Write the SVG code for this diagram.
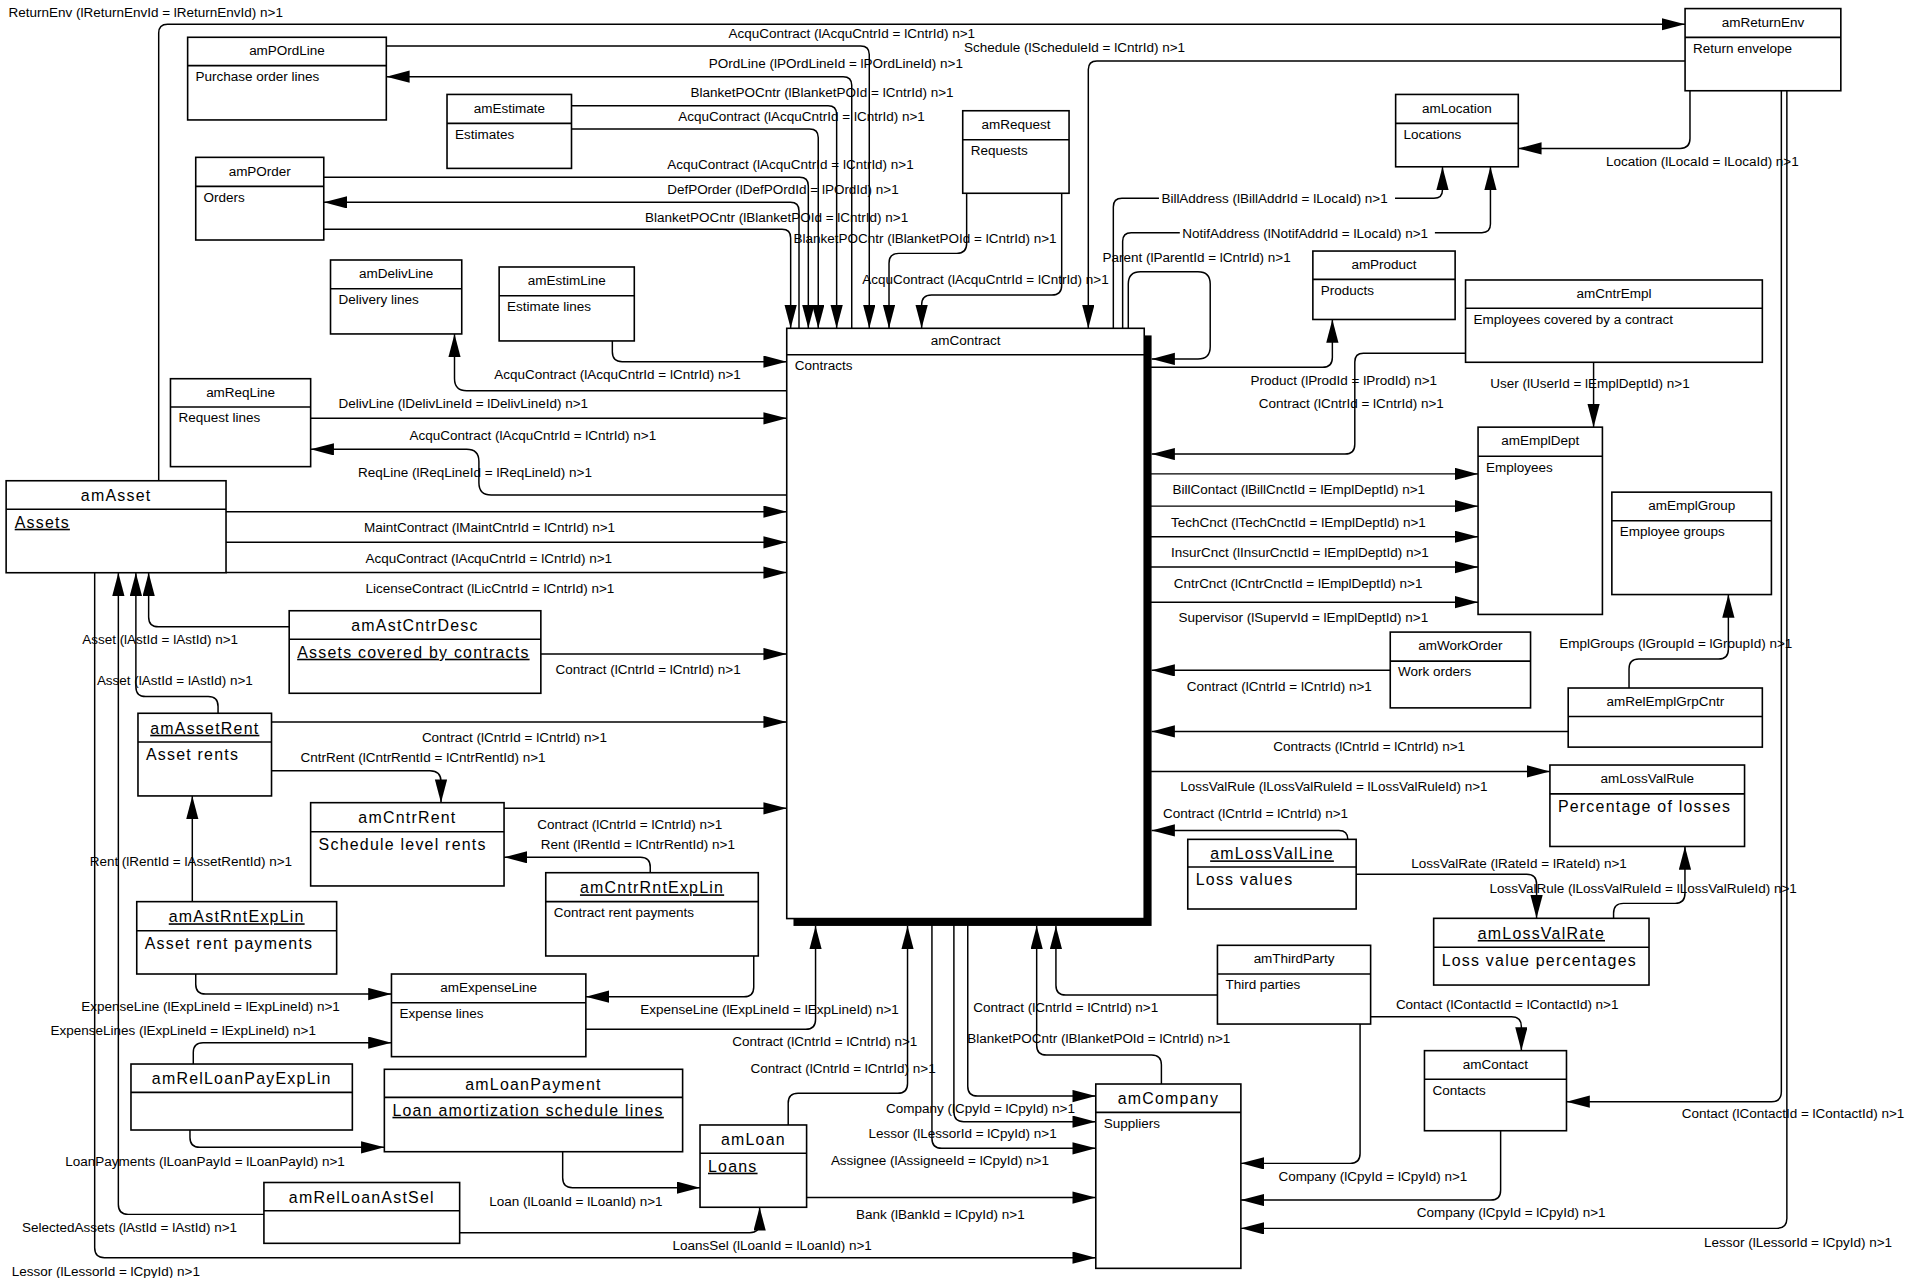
<svg xmlns="http://www.w3.org/2000/svg" width="1923" height="1278" viewBox="0 0 1923 1278">
<style>
.bx{fill:#fff;stroke:#000;stroke-width:1.3}
.hd{stroke:#000;stroke-width:1.3}
.ln{fill:none;stroke:#000;stroke-width:1.2}
.ar{marker-end:url(#a)}
text{font-family:"Liberation Sans",Arial,sans-serif;font-size:11px;fill:#000}
.L{font-size:13px;letter-spacing:1px}
.u{text-decoration:underline}
.c{text-anchor:middle}
</style>
<defs>
<marker id="a" markerUnits="userSpaceOnUse" markerWidth="20" markerHeight="11" refX="19" refY="5" orient="auto"><path d="M0,0 L19,5 L0,10 z" fill="#000"/></marker>
</defs>
<rect width="1923" height="1278" fill="#fff"/>
<g transform="scale(1.2264)">
<g id="connectors">
<g class="ln ar">
<path d="M129.4,392 V27 Q129.4,19.8 136.6,19.8 H1374"/>
<path d="M315,37.5 H701.8 Q708.8,37.5 708.8,44.5 V267.7"/>
<path d="M694.5,267.7 V69.5 Q694.5,62.5 687.5,62.5 H315"/>
<path d="M466,86.2 H675.2 Q682.2,86.2 682.2,93.2 V267.7"/>
<path d="M466,105.2 H660.2 Q667.2,105.2 667.2,112.2 V267.7"/>
<path d="M264,144.6 H652.1 Q659.1,144.6 659.1,151.6 V267.7"/>
<path d="M651.5,267.7 V172 Q651.5,165 644.5,165 H264"/>
<path d="M264,187 H637.7 Q644.7,187 644.7,194 V267.7"/>
<path d="M788.2,157.6 V198.6 Q788.2,206.6 780.2,206.6 H732.9 Q724.9,206.6 724.9,214.6 V267.7"/>
<path d="M865.7,157.6 V232.5 Q865.7,240.5 857.7,240.5 H759.5 Q751.5,240.5 751.5,248.5 V267.7"/>
<path d="M1374,49.7 H894.4 Q887.4,49.7 887.4,56.7 V267.7"/>
<path d="M1137.5,161.7 H1169.2 Q1176.2,161.7 1176.2,154.7 V136"/>
<path d="M1170,189.7 H1208.3 Q1215.3,189.7 1215.3,182.7 V136"/>
<path d="M920,267.7 V231.5 Q920,221.5 930,221.5 H976.8 Q986.8,221.5 986.8,231.5 V282.7 Q986.8,292.7 976.8,292.7 H939"/>
<path d="M933,299.5 H1078.4 Q1086.4,299.5 1086.4,291.5 V260.5"/>
<path d="M1195,288.1 H1111.7 Q1104.7,288.1 1104.7,295.1 V362.2 Q1104.7,370.2 1096.7,370.2 H939"/>
<path d="M1299.4,295.4 V348.3"/>
<path d="M933,386.4 H1205.2"/>
<path d="M933,412.7 H1205.2"/>
<path d="M933,437.7 H1205.2"/>
<path d="M933,462.4 H1205.2"/>
<path d="M933,491 H1205.2"/>
<path d="M1328.3,561 V545.3 Q1328.3,537.3 1336.3,537.3 H1401.3 Q1409.3,537.3 1409.3,529.3 V484.8"/>
<path d="M1133.6,546.6 H939"/>
<path d="M1278.7,596.4 H939"/>
<path d="M933,629 H1263.8"/>
<path d="M1099,684.4 Q1099,677.1 1091.7,677.1 H939"/>
<path d="M1105.8,712.9 H1244.9 Q1252.9,712.9 1252.9,720.9 V748.8"/>
<path d="M1315.7,748.8 V744.6 Q1315.7,736.6 1323.7,736.6 H1365.9 Q1373.9,736.6 1373.9,728.6 V690.2"/>
<path d="M992.7,811.3 H869 Q861,811.3 861,803.3 V755"/>
<path d="M947,883.9 V868.2 Q947,860.2 939,860.2 H853.3 Q845.3,860.2 845.3,852.2 V755"/>
<path d="M789.1,749 V885.7 Q789.1,893.7 797.1,893.7 H893.5"/>
<path d="M777.8,749 V906.6 Q777.8,914.6 785.8,914.6 H893.5"/>
<path d="M759.9,749 V928.3 Q759.9,936.3 767.9,936.3 H893.5"/>
<path d="M642.7,917.3 V899.5 Q642.7,891.5 650.7,891.5 H732 Q740,891.5 740,883.5 V755"/>
<path d="M477.7,839.3 H657 Q665,839.3 665,831.3 V755"/>
<path d="M614.6,779.5 V804.7 Q614.6,812.7 606.6,812.7 H477.7"/>
<path d="M530.2,711.6 V707 Q530.2,699 522.2,699 H411"/>
<path d="M411,659.1 H641.5"/>
<path d="M221.4,628.4 H350.6 Q359.6,628.4 359.6,637.4 V654.5"/>
<path d="M221.4,588.7 H641.5"/>
<path d="M177.8,581.6 V576 Q177.8,568 169.8,568 H118.8 Q110.8,568 110.8,560 V467"/>
<path d="M235.8,511 H129.2 Q121.2,511 121.2,503 V467"/>
<path d="M441,533.3 H641.5"/>
<path d="M184.3,417.2 H641.5"/>
<path d="M184.3,442.2 H641.5"/>
<path d="M184.3,466.9 H641.5"/>
<path d="M215.2,990.2 H104.5 Q96.5,990.2 96.5,982.2 V467"/>
<path d="M77.2,467 V1017.5 Q77.2,1025.5 85.2,1025.5 H893.5"/>
<path d="M156.8,735.2 V649"/>
<path d="M159.6,794.2 V802.5 Q159.6,810.5 167.6,810.5 H319.2"/>
<path d="M157.6,867.6 V858.2 Q157.6,850.2 165.6,850.2 H319.2"/>
<path d="M154.9,921.4 V927.5 Q154.9,935.5 162.9,935.5 H313.4"/>
<path d="M458.8,939.1 V960.4 Q458.8,968.4 466.8,968.4 H570.8"/>
<path d="M374.8,1005.1 H611.4 Q619.4,1005.1 619.4,997.1 V984.4"/>
<path d="M657.7,976.5 H893.5"/>
<path d="M1109,835 V940.6 Q1109,948.6 1101,948.6 H1011.8"/>
<path d="M1223.6,922 V970.5 Q1223.6,978.5 1215.6,978.5 H1011.8"/>
<path d="M1457,74 V993.6 Q1457,1001.6 1449,1001.6 H1011.8"/>
<path d="M1452.5,74 V890.3 Q1452.5,898.3 1444.5,898.3 H1277.3"/>
<path d="M1117.6,829 H1232.5 Q1240.5,829 1240.5,837 V856.7"/>
<path d="M1378,74 V113 Q1378,121 1370,121 H1238"/>
<path d="M499.3,278 V286.9 Q499.3,294.9 507.3,294.9 H641.5"/>
<path d="M641.5,318.6 H380.6 Q370.6,318.6 370.6,308.6 V272.3"/>
<path d="M253.3,341.1 H641.5"/>
<path d="M641.5,403.6 H400.5 Q390.5,403.6 390.5,393.6 V376.4 Q390.5,366.4 380.5,366.4 H253.3"/>
</g>
<g class="ln">
<path d="M907.8,267.7 V168.7 Q907.8,161.7 914.8,161.7 H945"/>
<path d="M915.4,267.7 V196.7 Q915.4,189.7 922.4,189.7 H962"/>
</g>
<g id="connector-labels">
<text x="7" y="14">ReturnEnv (lReturnEnvId = lReturnEnvId) n&gt;1</text>
<text x="594" y="31">AcquContract (lAcquCntrId = lCntrId) n&gt;1</text>
<text x="786" y="42.6">Schedule (lScheduleId = lCntrId) n&gt;1</text>
<text x="578" y="55.6">POrdLine (lPOrdLineId = lPOrdLineId) n&gt;1</text>
<text x="563" y="79.3">BlanketPOCntr (lBlanketPOId = lCntrId) n&gt;1</text>
<text x="553" y="98.3">AcquContract (lAcquCntrId = lCntrId) n&gt;1</text>
<text x="544" y="137.7">AcquContract (lAcquCntrId = lCntrId) n&gt;1</text>
<text x="544" y="158.1">DefPOrder (lDefPOrdId = lPOrdId) n&gt;1</text>
<text x="526" y="180.7">BlanketPOCntr (lBlanketPOId = lCntrId) n&gt;1</text>
<text x="647" y="198.5">BlanketPOCntr (lBlanketPOId = lCntrId) n&gt;1</text>
<text x="703" y="231.6">AcquContract (lAcquCntrId = lCntrId) n&gt;1</text>
<text x="1309.6" y="135">Location (lLocaId = lLocaId) n&gt;1</text>
<text x="947" y="165.7">BillAddress (lBillAddrId = lLocaId) n&gt;1</text>
<text x="964" y="193.7">NotifAddress (lNotifAddrId = lLocaId) n&gt;1</text>
<text x="899" y="214">Parent (lParentId = lCntrId) n&gt;1</text>
<text x="1019.6" y="313.8">Product (lProdId = lProdId) n&gt;1</text>
<text x="1026.4" y="332.3">Contract (lCntrId = lCntrId) n&gt;1</text>
<text x="1215.2" y="316.6">User (lUserId = lEmplDeptId) n&gt;1</text>
<text x="956" y="403">BillContact (lBillCnctId = lEmplDeptId) n&gt;1</text>
<text x="954.8" y="430">TechCnct (lTechCnctId = lEmplDeptId) n&gt;1</text>
<text x="954.8" y="454.5">InsurCnct (lInsurCnctId = lEmplDeptId) n&gt;1</text>
<text x="957" y="479.5">CntrCnct (lCntrCnctId = lEmplDeptId) n&gt;1</text>
<text x="961" y="507.2">Supervisor (lSupervId = lEmplDeptId) n&gt;1</text>
<text x="1271.4" y="528.2">EmplGroups (lGroupId = lGroupId) n&gt;1</text>
<text x="967.6" y="563.1">Contract (lCntrId = lCntrId) n&gt;1</text>
<text x="1038.2" y="612.6">Contracts (lCntrId = lCntrId) n&gt;1</text>
<text x="962.4" y="645.2">LossValRule (lLossValRuleId = lLossValRuleId) n&gt;1</text>
<text x="948.3" y="667.1">Contract (lCntrId = lCntrId) n&gt;1</text>
<text x="1150.7" y="707.4">LossValRate (lRateId = lRateId) n&gt;1</text>
<text x="1214.5" y="727.8">LossValRule (lLossValRuleId = lLossValRuleId) n&gt;1</text>
<text x="793.5" y="825.4">Contract (lCntrId = lCntrId) n&gt;1</text>
<text x="1138.2" y="823">Contact (lContactId = lContactId) n&gt;1</text>
<text x="788.7" y="850.6">BlanketPOCntr (lBlanketPOId = lCntrId) n&gt;1</text>
<text x="722.5" y="907.7">Company (lCpyId = lCpyId) n&gt;1</text>
<text x="708.2" y="928.1">Lessor (lLessorId = lCpyId) n&gt;1</text>
<text x="677.5" y="949.9">Assignee (lAssigneeId = lCpyId) n&gt;1</text>
<text x="612" y="875.1">Contract (lCntrId = lCntrId) n&gt;1</text>
<text x="597" y="852.5">Contract (lCntrId = lCntrId) n&gt;1</text>
<text x="522" y="827">ExpenseLine (lExpLineId = lExpLineId) n&gt;1</text>
<text x="441" y="692.2">Rent (lRentId = lCntrRentId) n&gt;1</text>
<text x="438" y="675.9">Contract (lCntrId = lCntrId) n&gt;1</text>
<text x="245" y="621.5">CntrRent (lCntrRentId = lCntrRentId) n&gt;1</text>
<text x="344" y="605.2">Contract (lCntrId = lCntrId) n&gt;1</text>
<text x="79" y="558.5">Asset (lAstId = lAstId) n&gt;1</text>
<text x="67" y="525.3">Asset (lAstId = lAstId) n&gt;1</text>
<text x="453" y="549.8">Contract (lCntrId = lCntrId) n&gt;1</text>
<text x="296.8" y="434">MaintContract (lMaintCntrId = lCntrId) n&gt;1</text>
<text x="298" y="458.7">AcquContract (lAcquCntrId = lCntrId) n&gt;1</text>
<text x="298" y="483.7">LicenseContract (lLicCntrId = lCntrId) n&gt;1</text>
<text x="17.9" y="1004.2">SelectedAssets (lAstId = lAstId) n&gt;1</text>
<text x="9.6" y="1040.1">Lessor (lLessorId = lCpyId) n&gt;1</text>
<text x="73.1" y="705.8">Rent (lRentId = lAssetRentId) n&gt;1</text>
<text x="66.2" y="824">ExpenseLine (lExpLineId = lExpLineId) n&gt;1</text>
<text x="41.2" y="843.9">ExpenseLines (lExpLineId = lExpLineId) n&gt;1</text>
<text x="53.2" y="950.4">LoanPayments (lLoanPayId = lLoanPayId) n&gt;1</text>
<text x="399" y="983">Loan (lLoanId = lLoanId) n&gt;1</text>
<text x="548.3" y="1019.2">LoansSel (lLoanId = lLoanId) n&gt;1</text>
<text x="698" y="993.9">Bank (lBankId = lCpyId) n&gt;1</text>
<text x="1042.4" y="962.9">Company (lCpyId = lCpyId) n&gt;1</text>
<text x="1155.2" y="992">Company (lCpyId = lCpyId) n&gt;1</text>
<text x="1389.4" y="1016.5">Lessor (lLessorId = lCpyId) n&gt;1</text>
<text x="1371.3" y="911.8">Contact (lContactId = lContactId) n&gt;1</text>
<text x="403" y="309">AcquContract (lAcquCntrId = lCntrId) n&gt;1</text>
<text x="276" y="332.9">DelivLine (lDelivLineId = lDelivLineId) n&gt;1</text>
<text x="334" y="358.7">AcquContract (lAcquCntrId = lCntrId) n&gt;1</text>
<text x="292" y="389.1">ReqLine (lReqLineId = lReqLineId) n&gt;1</text>
</g>
</g>
<g id="nodes">
<g id="amReturnEnv"><rect class="bx" x="1374" y="7" width="127" height="67"/><line class="hd" x1="1374" y1="30.5" x2="1501" y2="30.5"/><text class="c" x="1437.5" y="21.8">amReturnEnv</text><text x="1380.5" y="43">Return envelope</text></g>
<g id="amPOrdLine"><rect class="bx" x="153" y="30.4" width="162" height="67.4"/><line class="hd" x1="153" y1="53.5" x2="315" y2="53.5"/><text class="c" x="234" y="45">amPOrdLine</text><text x="159.5" y="66">Purchase order lines</text></g>
<g id="amEstimate"><rect class="bx" x="364.5" y="77" width="101.5" height="60.3"/><line class="hd" x1="364.5" y1="100.6" x2="466" y2="100.6"/><text class="c" x="415.3" y="91.8">amEstimate</text><text x="371" y="113.1">Estimates</text></g>
<g id="amPOrder"><rect class="bx" x="159.6" y="128.3" width="104.4" height="67.4"/><line class="hd" x1="159.6" y1="152" x2="264" y2="152"/><text class="c" x="211.8" y="143.2">amPOrder</text><text x="166" y="164.5">Orders</text></g>
<g id="amRequest"><rect class="bx" x="785" y="90.3" width="86.7" height="67.3"/><line class="hd" x1="785" y1="113.9" x2="871.7" y2="113.9"/><text class="c" x="828.4" y="105.1">amRequest</text><text x="791.5" y="126.4">Requests</text></g>
<g id="amLocation"><rect class="bx" x="1138" y="77" width="100" height="59"/><line class="hd" x1="1138" y1="100.6" x2="1238" y2="100.6"/><text class="c" x="1188" y="91.8">amLocation</text><text x="1144.5" y="113.1">Locations</text></g>
<g id="amDelivLine"><rect class="bx" x="269.5" y="212" width="107" height="60.3"/><line class="hd" x1="269.5" y1="235.4" x2="376.5" y2="235.4"/><text class="c" x="323" y="226.7">amDelivLine</text><text x="276" y="248">Delivery lines</text></g>
<g id="amEstimLine"><rect class="bx" x="407" y="217.7" width="110.2" height="60.3"/><line class="hd" x1="407" y1="241.1" x2="517.2" y2="241.1"/><text class="c" x="462.1" y="232.4">amEstimLine</text><text x="413.5" y="253.6">Estimate lines</text></g>
<g id="amProduct"><rect class="bx" x="1070.5" y="204.7" width="116" height="55.8"/><line class="hd" x1="1070.5" y1="227.8" x2="1186.5" y2="227.8"/><text class="c" x="1128.5" y="219.3">amProduct</text><text x="1077" y="240.3">Products</text></g>
<g id="amCntrEmpl"><rect class="bx" x="1195" y="228.3" width="242" height="67.1"/><line class="hd" x1="1195" y1="251.4" x2="1437" y2="251.4"/><text class="c" x="1316" y="242.9">amCntrEmpl</text><text x="1201.5" y="264">Employees covered by a contract</text></g>
<g id="amContract"><rect x="647" y="273.5" width="292" height="481.5" fill="#000"/><rect class="bx" x="641.5" y="267.7" width="291.5" height="481.3"/><line class="hd" x1="641.5" y1="289.3" x2="933" y2="289.3"/><text class="c" x="787.3" y="281.5">amContract</text><text x="648" y="301.8">Contracts</text></g>
<g id="amReqLine"><rect class="bx" x="139" y="308.8" width="114.3" height="71.7"/><line class="hd" x1="139" y1="331.9" x2="253.3" y2="331.9"/><text class="c" x="196.2" y="323.4">amReqLine</text><text x="145.5" y="344.4">Request lines</text></g>
<g id="amAsset"><rect class="bx" x="5" y="392" width="179.3" height="75"/><line class="hd" x1="5" y1="415.3" x2="184.3" y2="415.3"/><text class="c L" x="94.7" y="408.7">amAsset</text><text class="L u" x="12" y="430.3">Assets</text></g>
<g id="amEmplDept"><rect class="bx" x="1205.2" y="348.3" width="101.4" height="152.7"/><line class="hd" x1="1205.2" y1="372" x2="1306.6" y2="372"/><text class="c" x="1255.9" y="363.2">amEmplDept</text><text x="1211.7" y="384.5">Employees</text></g>
<g id="amEmplGroup"><rect class="bx" x="1314.3" y="401.3" width="130.1" height="83.5"/><line class="hd" x1="1314.3" y1="424.6" x2="1444.4" y2="424.6"/><text class="c" x="1379.4" y="416">amEmplGroup</text><text x="1320.8" y="437.1">Employee groups</text></g>
<g id="amAstCntrDesc"><rect class="bx" x="235.8" y="498" width="205.2" height="67.3"/><line class="hd" x1="235.8" y1="521.3" x2="441" y2="521.3"/><text class="c L" x="338.4" y="514.7">amAstCntrDesc</text><text class="L u" x="242.3" y="536.3">Assets covered by contracts</text></g>
<g id="amWorkOrder"><rect class="bx" x="1133.6" y="515.4" width="114.4" height="61.8"/><line class="hd" x1="1133.6" y1="539.1" x2="1248" y2="539.1"/><text class="c" x="1190.8" y="530.3">amWorkOrder</text><text x="1140" y="551.6">Work orders</text></g>
<g id="amRelEmplGrpCntr"><rect class="bx" x="1278.7" y="561" width="158.3" height="48.2"/><line class="hd" x1="1278.7" y1="584.2" x2="1437" y2="584.2"/><text class="c" x="1357.9" y="575.6">amRelEmplGrpCntr</text></g>
<g id="amAssetRent"><rect class="bx" x="112.5" y="581.6" width="108.9" height="67.4"/><line class="hd" x1="112.5" y1="605" x2="221.4" y2="605"/><text class="c L u" x="167" y="598.3">amAssetRent</text><text class="L" x="119" y="620">Asset rents</text></g>
<g id="amLossValRule"><rect class="bx" x="1263.8" y="623.8" width="158.7" height="66.4"/><line class="hd" x1="1263.8" y1="647.3" x2="1422.5" y2="647.3"/><text class="c" x="1343.2" y="638.6">amLossValRule</text><text class="L" x="1270.3" y="662.3">Percentage of losses</text></g>
<g id="amCntrRent"><rect class="bx" x="253.3" y="654.5" width="157.7" height="67.9"/><line class="hd" x1="253.3" y1="678.2" x2="411" y2="678.2"/><text class="c L" x="332.2" y="671.4">amCntrRent</text><text class="L" x="259.8" y="693.2">Schedule level rents</text></g>
<g id="amLossValLine"><rect class="bx" x="968.5" y="684.4" width="137.3" height="56.8"/><line class="hd" x1="968.5" y1="707" x2="1105.8" y2="707"/><text class="c L u" x="1037.2" y="700.7">amLossValLine</text><text class="L" x="975" y="722">Loss values</text></g>
<g id="amCntrRntExpLin"><rect class="bx" x="445" y="711.6" width="173.3" height="67.9"/><line class="hd" x1="445" y1="735.2" x2="618.3" y2="735.2"/><text class="c L u" x="531.7" y="728.4">amCntrRntExpLin</text><text x="451.5" y="747.7">Contract rent payments</text></g>
<g id="amAstRntExpLin"><rect class="bx" x="111.5" y="735.2" width="163" height="59"/><line class="hd" x1="111.5" y1="758.9" x2="274.5" y2="758.9"/><text class="c L u" x="193" y="752">amAstRntExpLin</text><text class="L" x="118" y="773.9">Asset rent payments</text></g>
<g id="amLossValRate"><rect class="bx" x="1169" y="748.8" width="175.6" height="54.4"/><line class="hd" x1="1169" y1="772.4" x2="1344.6" y2="772.4"/><text class="c L u" x="1256.8" y="765.6">amLossValRate</text><text class="L" x="1175.5" y="787.4">Loss value percentages</text></g>
<g id="amThirdParty"><rect class="bx" x="992.7" y="770.8" width="124.9" height="64.2"/><line class="hd" x1="992.7" y1="794.2" x2="1117.6" y2="794.2"/><text class="c" x="1055.2" y="785.5">amThirdParty</text><text x="999.2" y="806.7">Third parties</text></g>
<g id="amExpenseLine"><rect class="bx" x="319.2" y="794.2" width="158.5" height="67.4"/><line class="hd" x1="319.2" y1="817.6" x2="477.7" y2="817.6"/><text class="c" x="398.5" y="808.9">amExpenseLine</text><text x="325.7" y="830.1">Expense lines</text></g>
<g id="amContact"><rect class="bx" x="1161.5" y="856.7" width="115.8" height="65.3"/><line class="hd" x1="1161.5" y1="880" x2="1277.3" y2="880"/><text class="c" x="1219.4" y="871.4">amContact</text><text x="1168" y="892.5">Contacts</text></g>
<g id="amRelLoanPayExpLin"><rect class="bx" x="106.8" y="867.6" width="180.5" height="53.8"/><line class="hd" x1="106.8" y1="890.7" x2="287.3" y2="890.7"/><text class="c L" x="197.1" y="884.2">amRelLoanPayExpLin</text></g>
<g id="amLoanPayment"><rect class="bx" x="313.4" y="871.9" width="243.2" height="67.2"/><line class="hd" x1="313.4" y1="894.8" x2="556.6" y2="894.8"/><text class="c L" x="435" y="888.4">amLoanPayment</text><text class="L u" x="320" y="909.8">Loan amortization schedule lines</text></g>
<g id="amCompany"><rect class="bx" x="893.5" y="883.9" width="118.3" height="150.3"/><line class="hd" x1="893.5" y1="907" x2="1011.8" y2="907"/><text class="c L" x="952.7" y="900.5">amCompany</text><text x="900" y="919.5">Suppliers</text></g>
<g id="amLoan"><rect class="bx" x="570.8" y="917.3" width="86.9" height="67.1"/><line class="hd" x1="570.8" y1="940.4" x2="657.7" y2="940.4"/><text class="c L" x="614.3" y="933.9">amLoan</text><text class="L u" x="577.3" y="955.4">Loans</text></g>
<g id="amRelLoanAstSel"><rect class="bx" x="215.2" y="964.2" width="159.6" height="49.6"/><line class="hd" x1="215.2" y1="987.3" x2="374.8" y2="987.3"/><text class="c L" x="295" y="980.8">amRelLoanAstSel</text></g>
</g>
</g>
</svg>
